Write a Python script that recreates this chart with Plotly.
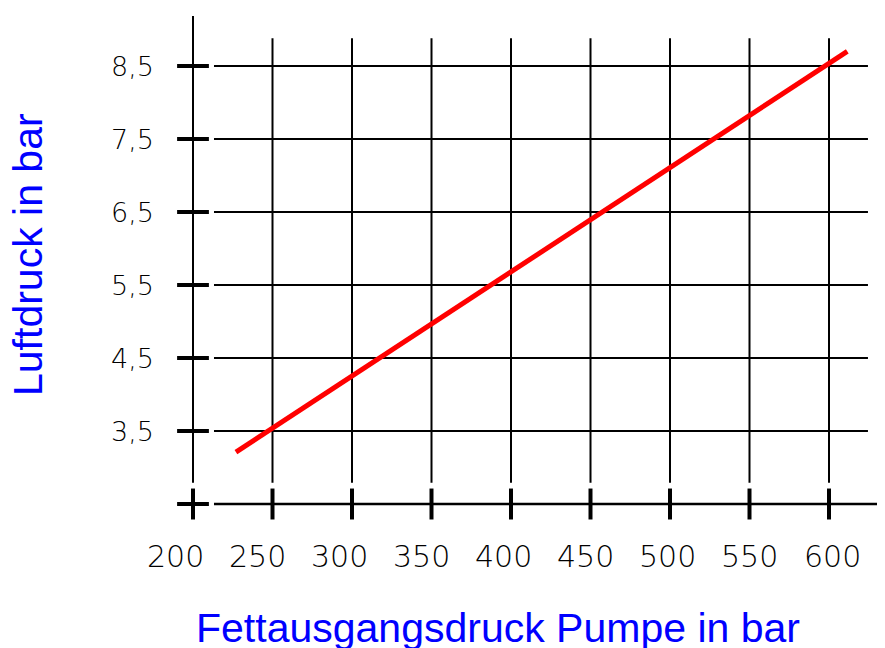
import plotly.graph_objects as go

# ---- data ----
x_ticks = [200, 250, 300, 350, 400, 450, 500, 550, 600]
x_tick_labels = ["200", "250", "300", "350", "400", "450", "500", "550", "600"]
y_ticks = [3.5, 4.5, 5.5, 6.5, 7.5, 8.5]
y_tick_labels = ["3,5", "4,5", "5,5", "6,5", "7,5", "8,5"]
line_x = [227, 611.5]
line_y = [3.21, 8.70]
x_title = "Fettausgangsdruck Pumpe in bar"
y_title = "Luftdruck in bar"

# ---- geometry (data units) ----
W, H = 885, 648
X0, Y0 = 200, 2.5          # axis origin
XR = [83.65, 640.25]
YR = [0.418, 9.2945]
grid_top = 8.88
axis_top = 9.185
grid_bottom = 2.79
hgrid_x0, hgrid_x1 = 213.2, 624.5
ytick_half = 10.0
xtick_half = 0.212

fig = go.Figure()
shapes = []

def seg(x0, y0, x1, y1, w, color="black"):
    shapes.append(dict(type="line", xref="x", yref="y", x0=x0, y0=y0, x1=x1, y1=y1,
                       line=dict(color=color, width=w), layer="below"))

# y axis line
seg(X0, grid_bottom, X0, axis_top, 2)
# vertical grid lines
for xv in x_ticks[1:]:
    seg(xv, grid_bottom, xv, grid_top, 2)
# horizontal grid lines
for yv in y_ticks:
    seg(hgrid_x0, yv, hgrid_x1, yv, 2)
# bottom axis line
seg(hgrid_x0, Y0, XR[1] + 10, Y0, 2.5)
# thick y ticks (including origin)
for yv in [Y0] + y_ticks:
    seg(X0 - ytick_half, yv, X0 + ytick_half, yv, 4)
# thick x ticks
for xv in x_ticks:
    seg(xv, Y0 - xtick_half, xv, Y0 + xtick_half, 4)

fig.add_trace(go.Scatter(x=line_x, y=line_y, mode="lines",
                         line=dict(color="#ff0000", width=5), showlegend=False,
                         hoverinfo="skip"))

label_font = dict(family="DejaVu Sans", weight=200, color="black")
annotations = []
for xv, lab in zip(x_ticks, x_tick_labels):
    shift = -18 + (xv - 200) * 0.0525
    annotations.append(dict(x=xv, y=Y0 - 52 / 73, xref="x", yref="y", text=lab,
                            showarrow=False, xanchor="center", yanchor="middle",
                            xshift=shift, font=dict(size=30, **label_font)))
for yv, lab in zip(y_ticks, y_tick_labels):
    annotations.append(dict(x=X0 - 37 / 1.59, y=yv, xref="x", yref="y", text=lab,
                            showarrow=False, xanchor="right", yanchor="middle",
                            font=dict(size=27, **label_font)))
annotations.append(dict(x=(497.5 - 8) / W, y=1 - 619.5 / H, xref="paper", yref="paper",
                        text=x_title, showarrow=False, xanchor="center", yanchor="middle",
                        font=dict(family="Liberation Sans, Arial", size=41, color="#0000ff")))
annotations.append(dict(x=20 / W, y=1 - 247 / H, xref="paper", yref="paper",
                        text=y_title, showarrow=False, xanchor="center", yanchor="middle",
                        textangle=-90,
                        font=dict(family="Liberation Sans, Arial", size=41, color="#0000ff")))

fig.update_layout(
    width=W, height=H, autosize=False,
    margin=dict(l=0, r=0, t=0, b=0),
    paper_bgcolor="white", plot_bgcolor="white",
    xaxis=dict(range=XR, visible=False, fixedrange=True),
    yaxis=dict(range=YR, visible=False, fixedrange=True),
    shapes=shapes, annotations=annotations,
    showlegend=False,
)

fig.write_html("out.html")
